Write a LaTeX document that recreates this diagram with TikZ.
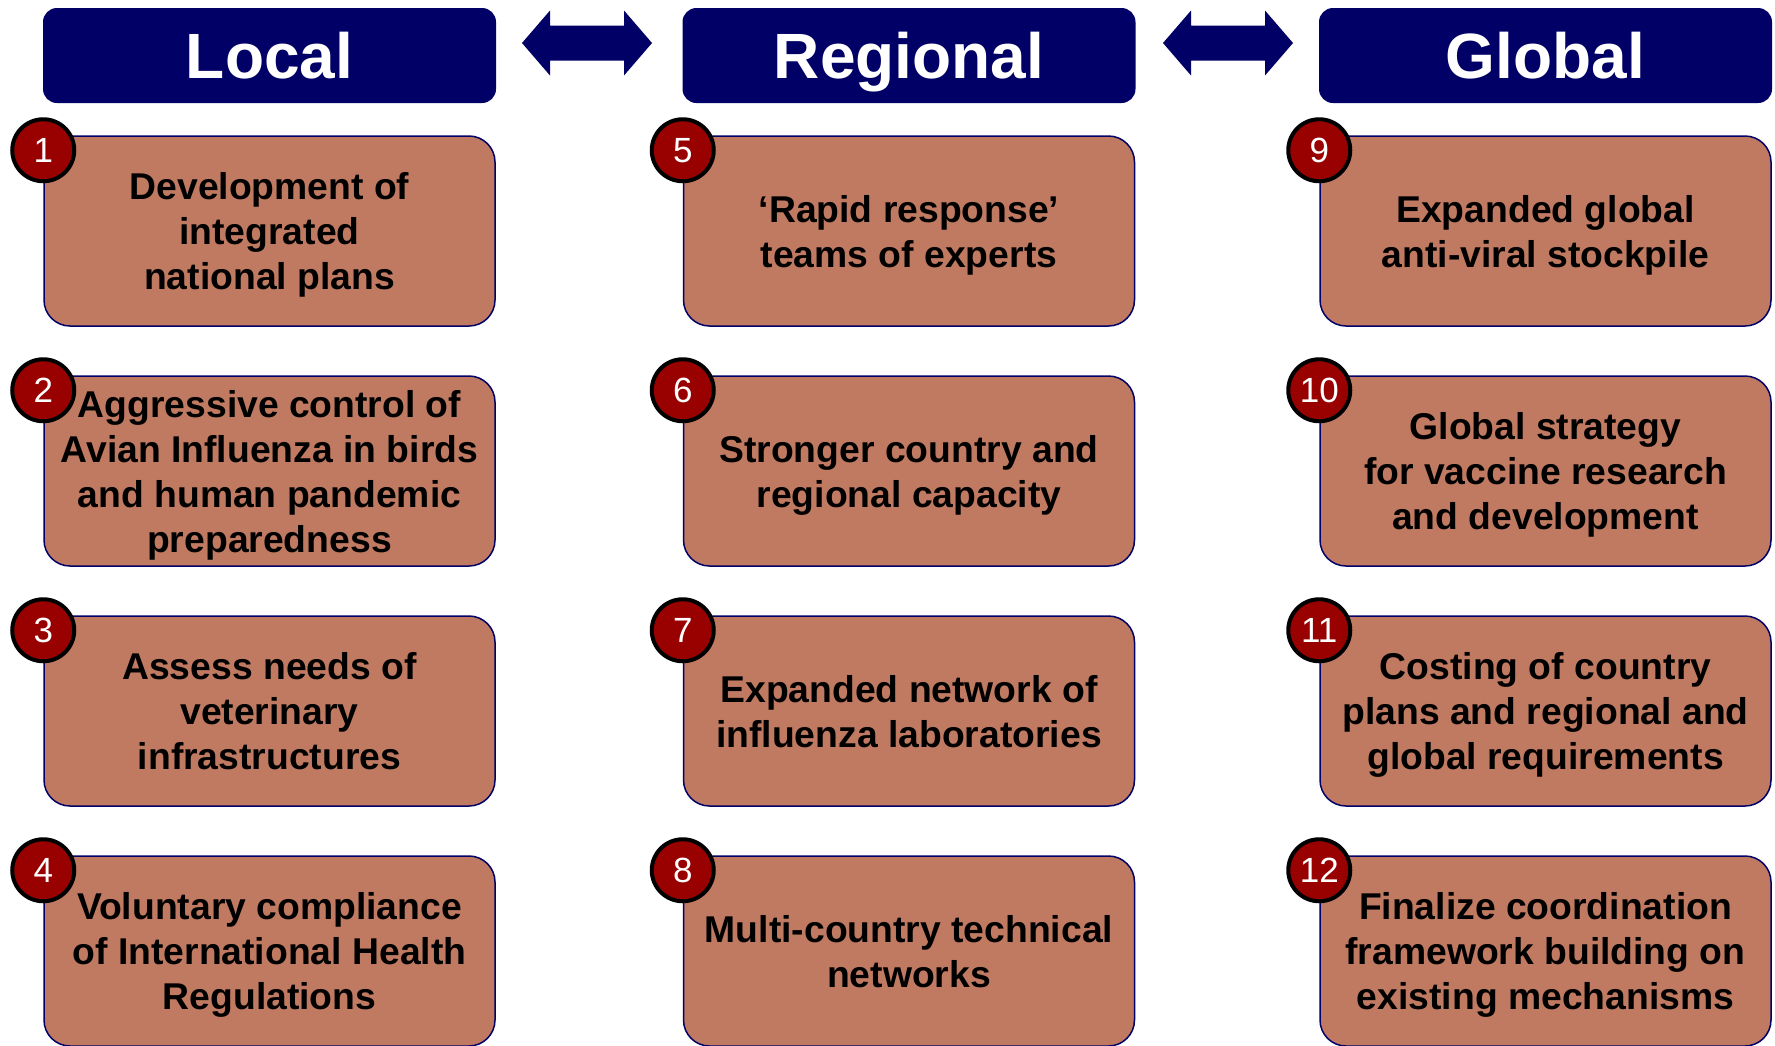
\documentclass[tikz,border=0pt]{standalone}
\usepackage{fontspec}
\setmainfont{Liberation Sans}
\usetikzlibrary{calc}
\definecolor{navy}{RGB}{0,0,102}
\definecolor{clay}{RGB}{192,122,98}
\definecolor{badgered}{RGB}{153,0,0}

\begin{document}
\begin{tikzpicture}[x=1pt,y=-1pt,
  header/.style={fill=navy, rounded corners=14pt, minimum width=453pt,
    minimum height=95pt, inner sep=0pt, text=white,
    font=\bfseries\fontsize{64}{70}\selectfont, text height=46pt, text depth=0pt},
  item/.style={draw=navy, line width=1.5pt, fill=clay, rounded corners=26pt,
    minimum width=451pt, minimum height=190pt, inner sep=0pt, align=center,
    font=\bfseries\fontsize{37.3}{45}\selectfont, text depth=0pt},
  badge/.style={circle, draw=black, line width=4pt, fill=badgered,
    minimum size=62pt, inner sep=0pt, text=white,
    font=\fontsize{35}{35}\selectfont, text height=25pt, text depth=0pt},
  bigarrow/.style={fill=navy}
]
\useasboundingbox (0,0) rectangle (1775,1045);

% column headers
\node[header] (hl) at (269.5,55.5) {Local};
\node[header] (hr) at (909,55.5)   {Regional};
\node[header] (hg) at (1545.5,55.5){Global};

% two-way arrows between the headers
\coordinate (a1) at (587,43);
\coordinate (a2) at (1228,43);
\foreach \c in {a1,a2}{
  \fill[bigarrow] (\c) ++(-65,0) -- ++(28,-32.5) -- ++(0,15) -- ++(74,0)
    -- ++(0,-15) -- ++(28,32.5) -- ++(-28,32.5) -- ++(0,-15) -- ++(-74,0)
    -- ++(0,15) -- cycle;
}

% Local column
\node[item] (b1) at (269.5,231) {Development of\\integrated\\national plans};
\node[item] (b2) at (269.5,471) {Aggressive control of\\Avian Influenza in birds\\and human pandemic\\preparedness};
\node[item] (b3) at (269.5,711) {Assess needs of\\veterinary\\infrastructures};
\node[item] (b4) at (269.5,951) {Voluntary compliance\\of International Health\\Regulations};

% Regional column
\node[item] (b5) at (909,231) {‘Rapid response’\\teams of experts};
\node[item] (b6) at (909,471) {Stronger country and\\regional capacity};
\node[item] (b7) at (909,711) {Expanded network of\\influenza laboratories};
\node[item] (b8) at (909,951) {Multi-country technical\\networks};

% Global column
\node[item] (b9)  at (1545.5,231) {Expanded global\\anti-viral stockpile};
\node[item] (b10) at (1545.5,471) {Global strategy\\for vaccine research\\and development};
\node[item] (b11) at (1545.5,711) {Costing of country\\plans and regional and\\global requirements};
\node[item] (b12) at (1545.5,951) {Finalize coordination\\framework building on\\existing mechanisms};

% numbered badges on the top-left corners
\foreach \i in {1,...,12}{
  \node[badge] (n\i) at ([yshift=-15pt]b\i.north west) {\i};
}
\end{tikzpicture}
\end{document}
